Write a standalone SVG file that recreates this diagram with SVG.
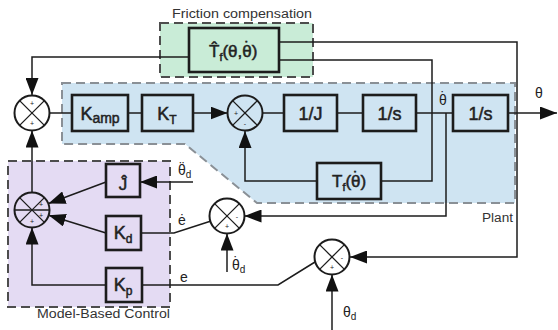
<svg xmlns="http://www.w3.org/2000/svg" width="558" height="330" viewBox="0 0 558 330">
<defs>
<marker id="ah" markerUnits="userSpaceOnUse" markerWidth="18" markerHeight="13" refX="17" refY="6.5" orient="auto">
<path d="M0,0 L17,6.5 L0,13 z" fill="#111"/>
</marker>
<style>
.region{stroke-width:2;stroke-dasharray:9,5}
.box{fill:none;stroke:#1c1c1c;stroke-width:2.6}
.sum{fill:none;stroke:#1c1c1c;stroke-width:2}
.x{stroke:#1c1c1c;stroke-width:1.3}
.wire{fill:none;stroke:#1c1c1c;stroke-width:1.5}
.arr{marker-end:url(#ah)}
.lbl{font-family:"Liberation Sans",Arial,sans-serif;fill:#222;stroke:#222;stroke-width:0.5}
.mid{text-anchor:middle}
.sig{font-family:"Liberation Sans",Arial,sans-serif;fill:#222;font-size:14px}
.cap{font-family:"Liberation Sans",Arial,sans-serif;fill:#333;font-size:12.5px}
.sgn{font-family:"Liberation Sans",Arial,sans-serif;fill:#222;font-size:7px;text-anchor:middle}
</style>
</defs>
<rect width="558" height="330" fill="#ffffff"/>

<g id="regions">
<rect id="friction-region" class="region" x="160" y="23" width="153" height="54" fill="#c9ecd7" stroke="#4d4d4d"/>
<polygon id="plant-region" class="region" points="62,83 515,83 515,203 257,203 185,144 62,144" fill="#cfe4f2" stroke="#8a9096"/>
<rect id="mbc-region" class="region" x="8" y="161" width="162" height="146" fill="#e4dbf3" stroke="#4d4d4d"/>
<text class="cap" x="172" y="18" textLength="140" lengthAdjust="spacingAndGlyphs">Friction compensation</text>
<text class="cap" x="482" y="222" textLength="31" lengthAdjust="spacingAndGlyphs">Plant</text>
<text class="cap" x="37" y="318" textLength="133" lengthAdjust="spacingAndGlyphs">Model-Based Control</text>
</g>

<g id="connectors">
<polyline class="wire arr" points="189,57 32,57 32,95"/>
<polyline class="wire arr" points="279,42 517,42 517,257 350,257"/>
<polyline class="wire" points="279,60 432,60 432,181 381,181"/>
<polyline class="wire arr" points="317,181 245,181 245,131"/>
<line class="wire" x1="49.5" y1="113" x2="72" y2="113"/>
<line class="wire" x1="128" y1="113" x2="142" y2="113"/>
<line class="wire arr" x1="193" y1="113" x2="227.5" y2="113"/>
<line class="wire" x1="262.5" y1="113" x2="284" y2="113"/>
<line class="wire" x1="337" y1="113" x2="363" y2="113"/>
<line class="wire" x1="416" y1="113" x2="453" y2="113"/>
<line class="wire arr" x1="508" y1="113" x2="557" y2="113"/>
<polyline class="wire arr" points="446,113 446,216 244.5,216"/>
<line class="wire arr" x1="227" y1="272" x2="227" y2="233.5"/>
<line class="wire arr" x1="332" y1="330" x2="332" y2="274.5"/>
<polyline class="wire" points="315,262 278,285 142,285"/>
<polyline class="wire arr" points="106,285 32,285 32,227.5"/>
<line class="wire arr" x1="32" y1="192.5" x2="32" y2="130.5"/>
<line class="wire arr" x1="193" y1="182" x2="140" y2="182"/>
<line class="wire arr" x1="106" y1="182" x2="48.5" y2="203.5"/>
<polyline class="wire" points="141,233 174,233 210.3,221.3"/>
<line class="wire arr" x1="106" y1="233" x2="48.7" y2="215.2"/>
</g>

<g id="sum1">
<circle class="sum" cx="32" cy="113" r="17.5"/>
<line class="x" x1="19.6" y1="100.6" x2="44.4" y2="125.4"/><line class="x" x1="44.4" y1="100.6" x2="19.6" y2="125.4"/>
<text class="sgn" x="32" y="106">+</text><text class="sgn" x="32" y="126">+</text>
</g>
<g id="sum2">
<circle class="sum" cx="245" cy="113" r="17.5"/>
<line class="x" x1="232.6" y1="100.6" x2="257.4" y2="125.4"/><line class="x" x1="257.4" y1="100.6" x2="232.6" y2="125.4"/>
<text class="sgn" x="236" y="116">+</text><text class="sgn" x="245" y="126">-</text>
</g>
<g id="sum3">
<circle class="sum" cx="32" cy="210" r="17.5"/>
<line class="x" x1="19.6" y1="197.6" x2="44.4" y2="222.4"/><line class="x" x1="44.4" y1="197.6" x2="19.6" y2="222.4"/>
<line class="x" x1="14.5" y1="210" x2="49.5" y2="210"/>
<text class="sgn" x="41" y="207">+</text><text class="sgn" x="41" y="218">+</text><text class="sgn" x="32" y="224">+</text>
</g>
<g id="sum4">
<circle class="sum" cx="227" cy="216" r="17.5"/>
<line class="x" x1="214.6" y1="203.6" x2="239.4" y2="228.4"/><line class="x" x1="239.4" y1="203.6" x2="214.6" y2="228.4"/>
<text class="sgn" x="237" y="219">-</text><text class="sgn" x="227" y="229">+</text>
</g>
<g id="sum5">
<circle class="sum" cx="332" cy="257" r="17.5"/>
<line class="x" x1="319.6" y1="244.6" x2="344.4" y2="269.4"/><line class="x" x1="344.4" y1="244.6" x2="319.6" y2="269.4"/>
<text class="sgn" x="342" y="260">-</text><text class="sgn" x="332" y="270">+</text>
</g>

<g id="tfhat">
<rect class="box" x="189" y="28" width="90" height="44"/>
<text class="lbl" x="209" y="57" font-size="17">T&#770;<tspan font-size="11" dy="4">f</tspan><tspan dy="-4">(θ,θ</tspan><tspan dx="-7.56" dy="-4">˙</tspan><tspan dx="1.9" dy="4">)</tspan></text>
</g>
<g id="kamp">
<rect class="box" x="72" y="95" width="56" height="36"/>
<text class="lbl mid" x="100" y="120" font-size="18">K<tspan font-size="14" dy="3">amp</tspan></text>
</g>
<g id="kt">
<rect class="box" x="142" y="95" width="51" height="36"/>
<text class="lbl mid" x="167" y="120" font-size="18">K<tspan font-size="12" dy="4">T</tspan></text>
</g>
<g id="invj">
<rect class="box" x="284" y="95" width="53" height="36"/>
<text class="lbl mid" x="310.5" y="120" font-size="18">1/J</text>
</g>
<g id="integ1">
<rect class="box" x="363" y="95" width="53" height="36"/>
<text class="lbl mid" x="389.5" y="120" font-size="18">1/s</text>
</g>
<g id="integ2">
<rect class="box" x="453" y="95" width="55" height="36"/>
<text class="lbl mid" x="480.5" y="120" font-size="18">1/s</text>
</g>
<g id="tf">
<rect class="box" x="317" y="163" width="64" height="36"/>
<text class="lbl" x="332" y="187" font-size="17">T<tspan font-size="11" dy="4">f</tspan><tspan dy="-4">(θ</tspan><tspan dx="-7.56" dy="-4">˙</tspan><tspan dx="1.9" dy="4">)</tspan></text>
</g>
<g id="jhat">
<rect class="box" x="106" y="164" width="34" height="33"/>
<text class="lbl mid" x="123" y="190" font-size="17">Ĵ</text>
</g>
<g id="kd">
<rect class="box" x="106" y="216" width="35" height="34"/>
<text class="lbl mid" x="123" y="239" font-size="18">K<tspan font-size="12" dy="4">d</tspan></text>
</g>
<g id="kp">
<rect class="box" x="106" y="268" width="36" height="34"/>
<text class="lbl mid" x="123" y="291" font-size="18">K<tspan font-size="12" dy="4">p</tspan></text>
</g>

<g id="signal-labels">
<text class="sig" x="439" y="105">θ<tspan dx="-6.2" dy="-3">˙</tspan></text>
<text class="sig" x="535" y="98">θ</text>
<text class="sig" x="178" y="175">θ<tspan dx="-6.2" dy="-3">¨</tspan><tspan font-size="10" dx="1.5" dy="6">d</tspan></text>
<text class="sig" x="178" y="225">ė</text>
<text class="sig" x="180" y="282">e</text>
<text class="sig" x="232" y="270">θ<tspan dx="-6.2" dy="-3">˙</tspan><tspan font-size="10" dx="1.5" dy="6">d</tspan></text>
<text class="sig" x="343" y="317">θ<tspan font-size="10" dy="3">d</tspan></text>
</g>
</svg>
